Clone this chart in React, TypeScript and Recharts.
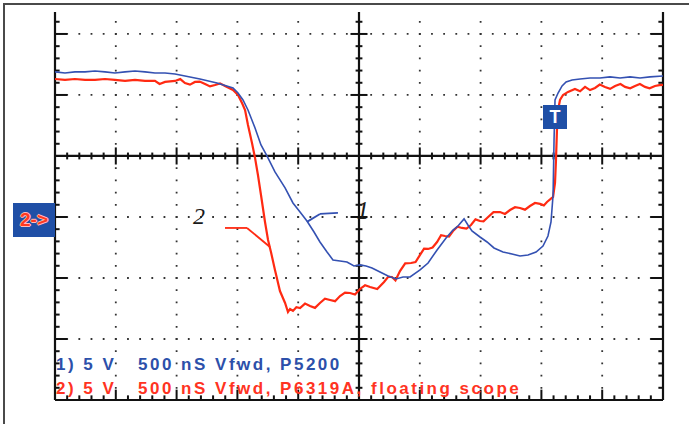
import { LineChart, Line, XAxis, YAxis, ReferenceLine, ReferenceDot } from "recharts";

// channel 1 (blue), time in ns from left edge, volts from centre line
const blueTime = [
  0, 82, 164, 247, 329, 411, 493, 576, 658, 740, 822, 905, 987, 1069, 1192, 1332, 1464, 1505, 1546, 1587,
  1645, 1694, 1743, 1809, 1892, 1957, 2015, 2072, 2130, 2179, 2237, 2286, 2344, 2401, 2459, 2508, 2558, 2607,
  2673, 2739, 2804, 2862, 2920, 3002, 3068, 3142, 3216, 3273, 3314, 3364, 3396, 3429, 3495, 3553, 3610, 3684,
  3758, 3824, 3890, 3956, 4013, 4054, 4079, 4096, 4104, 4112, 4137, 4170, 4203, 4252, 4318, 4400, 4482, 4564,
  4647, 4729, 4811, 4893, 5000,
];
const blueVolts = [
  6.89, 6.8, 6.89, 6.89, 6.97, 6.89, 6.8, 6.89, 6.97, 6.89, 6.8, 6.8, 6.72, 6.56, 6.31, 5.98, 5.57, 5.16, 4.59, 3.77,
  2.3, 0.9, 0, -1.31, -2.62, -3.85, -4.59, -5.33, -6.23, -7.05, -7.87, -8.52, -8.61, -8.69, -9.02, -8.93, -9.02, -9.18,
  -9.51, -9.84, -10.08, -9.92, -9.92, -9.34, -8.77, -7.7, -6.72, -6.07, -5.74, -5.16, -5.66, -6.15, -6.64, -7.05, -7.54, -7.87,
  -8.03, -8.2, -8.11, -7.87, -7.38, -6.56, -5.41, -3.2, 1.31, 4.59, 5.16, 5.74, 6.07, 6.23, 6.31, 6.39, 6.39, 6.48,
  6.39, 6.48, 6.39, 6.48, 6.56,
];

// channel 2 (red)
const redTime = [
  0, 82, 164, 247, 329, 411, 493, 576, 658, 740, 822, 860, 905, 987, 1030, 1069, 1110, 1151, 1190, 1234,
  1275, 1316, 1357, 1398, 1464, 1505, 1538, 1563, 1587, 1620, 1645, 1669, 1694, 1727, 1752, 1776, 1809, 1850,
  1892, 1916, 1933, 1957, 1985, 2015, 2056, 2097, 2138, 2179, 2220, 2262, 2303, 2344, 2385, 2426, 2467, 2508,
  2550, 2591, 2650, 2706, 2740, 2771, 2800, 2837, 2880, 2928, 2965, 3002, 3035, 3068, 3105, 3142, 3175, 3207,
  3240, 3273, 3310, 3347, 3384, 3421, 3458, 3495, 3524, 3553, 3606, 3660, 3700, 3742, 3783, 3824, 3865, 3906,
  3947, 3989, 4020, 4046, 4096, 4112, 4120, 4128, 4137, 4153, 4178, 4219, 4276, 4318, 4359, 4400, 4441, 4480,
  4523, 4565, 4606, 4650, 4688, 4730, 4770, 4810, 4852, 4890, 4934, 4970, 5000,
];
const redVolts = [
  6.31, 6.23, 6.31, 6.23, 6.23, 6.31, 6.23, 6.15, 6.23, 6.15, 6.15, 5.9, 6.07, 6.15, 6.3, 5.98, 5.85, 6.07, 6.1, 5.9,
  5.7, 5.82, 5.95, 5.74, 5.41, 5.0, 4.34, 3.77, 2.54, 1.07, -0.16, -1.56, -3.2, -5.41, -6.89, -7.87, -9.34, -11.07,
  -12.05, -12.79, -12.54, -12.7, -12.4, -12.46, -12.1, -12.3, -12.45, -12.05, -11.7, -11.8, -11.9, -11.48, -11.2, -11.23, -11.35, -10.9,
  -10.6, -10.74, -10.9, -10.33, -9.9, -9.92, -10.2, -9.43, -8.8, -8.77, -8.7, -8.11, -7.6, -7.62, -7.5, -7.05, -6.5, -6.56,
  -6.6, -6.15, -5.8, -5.9, -5.95, -5.66, -5.2, -5.33, -5.35, -5.08, -4.6, -4.59, -4.75, -4.43, -4.2, -4.26, -4.4, -4.1,
  -3.85, -3.93, -4.05, -3.77, -3.36, -2.21, -0.33, 2.13, 3.77, 4.59, 5.0, 5.25, 5.49, 5.3, 5.66, 5.4, 5.57, 5.85,
  5.66, 5.5, 5.74, 5.9, 5.66, 5.55, 5.74, 5.9, 5.66, 5.55, 5.74, 5.8, 5.82,
];

const blueData = blueTime.map((t, i) => ({ t, v: blueVolts[i] }));
const redData = redTime.map((t, i) => ({ t, v: redVolts[i] }));

// screen: 10 div x 500 ns, 5 V/div, top part cut off
const T_MAX = 5000;
const V_MIN = -20;
const V_MAX = 11.8;
const gridTimes = [500, 1000, 1500, 2000, 3000, 3500, 4000, 4500];
const gridVolts = [-15, -10, -5, 5, 10];
const minorTimes = Array.from({ length: 49 }, (_, i) => (i + 1) * 100);
const minorVolts = Array.from({ length: 31 }, (_, i) => -19 + i);

const BLUE = "#3451b2";
const RED = "#ff2a12";
const INK = "#111";

export default function App() {
  const ticks: JSX.Element[] = [];
  minorTimes.forEach((t) => {
    const major = t % 500 === 0;
    const h = major ? 0.7 : 0.28;
    ticks.push(
      <ReferenceLine key={"ch" + t} segment={[{ x: t, y: -h }, { x: t, y: h }]} stroke={INK} strokeWidth={2} />
    );
    const b = major ? 0.85 : 0.38;
    ticks.push(
      <ReferenceLine key={"bt" + t} segment={[{ x: t, y: V_MIN }, { x: t, y: V_MIN + b }]} stroke={INK} strokeWidth={2} />
    );
  });
  minorVolts.forEach((v) => {
    const major = v % 5 === 0;
    const h = major ? 70 : 28;
    if (v !== 0)
      ticks.push(
        <ReferenceLine key={"cv" + v} segment={[{ x: 2500 - h, y: v }, { x: 2500 + h, y: v }]} stroke={INK} strokeWidth={2} />
      );
    const len = major ? 100 : 38;
    ticks.push(
      <ReferenceLine key={"lt" + v} segment={[{ x: 0, y: v }, { x: len, y: v }]} stroke={INK} strokeWidth={2} />
    );
    ticks.push(
      <ReferenceLine key={"rt" + v} segment={[{ x: T_MAX, y: v }, { x: T_MAX - len, y: v }]} stroke={INK} strokeWidth={2} />
    );
  });

  const legendStyle = {
    position: "absolute" as const,
    left: 56,
    fontFamily: "'Liberation Sans', Arial, sans-serif",
    fontWeight: 700,
    fontSize: 17,
    letterSpacing: 2.5,
    whiteSpace: "pre" as const,
    lineHeight: "17px",
  };

  return (
    <div style={{ position: "absolute", left: 0, top: 0, width: 689, height: 424, background: "#fff", overflow: "hidden" }}>
      <div style={{ position: "absolute", left: 3, top: 3, width: 720, height: 460, border: "2px solid #4a4a4a" }} />
      <LineChart
        width={689}
        height={424}
        margin={{ top: 12, right: 26, bottom: 24, left: 55 }}
        style={{ position: "absolute", left: 0, top: 0 }}
      >
        <XAxis type="number" dataKey="t" domain={[0, T_MAX]} hide allowDataOverflow />
        <YAxis type="number" dataKey="v" domain={[V_MIN, V_MAX]} hide allowDataOverflow />
        {gridVolts.map((v) => (
          <ReferenceLine key={"gv" + v} y={v} stroke="#333" strokeWidth={1.8} strokeDasharray="1.8 10.36" strokeDashoffset={0.9} />
        ))}
        {gridTimes.map((t) => (
          <ReferenceLine key={"gt" + t} x={t} stroke="#333" strokeWidth={1.8} strokeDasharray="1.8 10.4" strokeDashoffset={0.9} />
        ))}
        <ReferenceLine y={0} stroke={INK} strokeWidth={2.2} />
        <ReferenceLine x={2500} stroke={INK} strokeWidth={2.2} />
        <ReferenceLine x={0} stroke={INK} strokeWidth={2.2} />
        <ReferenceLine x={T_MAX} stroke={INK} strokeWidth={2.2} />
        <ReferenceLine y={V_MIN} stroke={INK} strokeWidth={2.2} />
        {ticks}
        <Line data={redData} dataKey="v" type="linear" stroke={RED} strokeWidth={2.2} dot={false} isAnimationActive={false} />
        <Line data={blueData} dataKey="v" type="linear" stroke={BLUE} strokeWidth={1.6} dot={false} isAnimationActive={false} />
        <ReferenceLine segment={[{ x: 2072, y: -5.4 }, { x: 2179, y: -4.75 }]} stroke={BLUE} strokeWidth={1.8} />
        <ReferenceLine segment={[{ x: 2179, y: -4.75 }, { x: 2327, y: -4.67 }]} stroke={BLUE} strokeWidth={1.8} />
        <ReferenceLine segment={[{ x: 1398, y: -5.9 }, { x: 1579, y: -5.9 }]} stroke={RED} strokeWidth={1.8} />
        <ReferenceLine segment={[{ x: 1579, y: -5.9 }, { x: 1768, y: -7.46 }]} stroke={RED} strokeWidth={1.8} />
        <ReferenceDot
          x={2530}
          y={-4.45}
          r={0}
          stroke="none"
          label={{ value: "1", position: "center", fill: "#1a1a1a", fontSize: 25, fontStyle: "italic", fontFamily: "'Liberation Serif', serif" }}
        />
        <ReferenceDot
          x={1184}
          y={-4.84}
          r={0}
          stroke="none"
          label={{ value: "2", position: "center", fill: "#1a1a1a", fontSize: 24, fontStyle: "italic", fontFamily: "'Liberation Serif', serif" }}
        />
      </LineChart>
      <div
        style={{
          position: "absolute",
          left: 13,
          top: 203,
          width: 42,
          height: 34,
          background: "#1f4fa6",
          color: "#ff3a22",
          fontFamily: "'Liberation Sans', Arial, sans-serif",
          fontWeight: 700,
          fontSize: 19,
          lineHeight: "34px",
          textAlign: "center",
          textShadow: "1px 0 #fbb, -1px 0 #fbb, 0 1px #fbb, 0 -1px #fbb",
        }}
      >
        2-&gt;
      </div>
      <div
        style={{
          position: "absolute",
          left: 543,
          top: 105,
          width: 24,
          height: 24,
          background: "#1f4fa6",
          color: "#fff",
          fontFamily: "'Liberation Sans', Arial, sans-serif",
          fontWeight: 700,
          fontSize: 18,
          lineHeight: "24px",
          textAlign: "center",
        }}
      >
        T
      </div>
      <div style={{ ...legendStyle, top: 356, color: "#2c50aa" }}>{"1) 5 V   500 nS Vfwd, P5200"}</div>
      <div style={{ ...legendStyle, top: 380, color: "#ff3322" }}>{"2) 5 V   500 nS Vfwd, P6319A, floating scope"}</div>
    </div>
  );
}
